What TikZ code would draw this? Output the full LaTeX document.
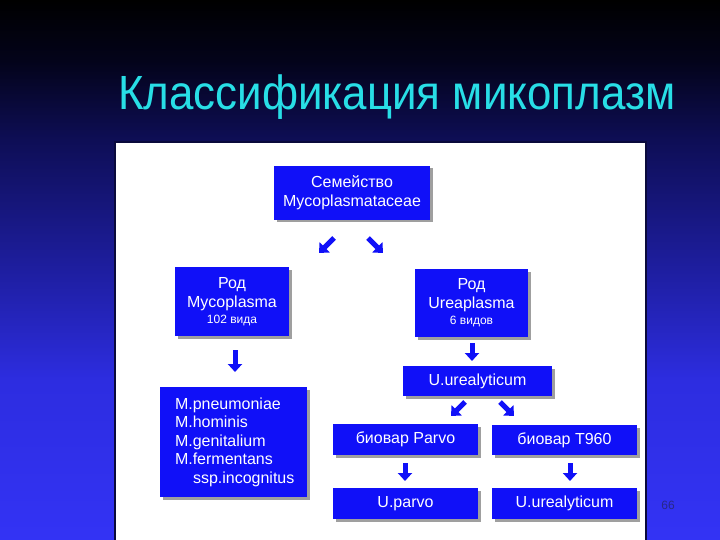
\documentclass[tikz,border=0pt]{standalone}
\usepackage{fontspec}
\setmainfont{Liberation Sans}
\usetikzlibrary{shadows,arrows.meta}
\definecolor{boxblue}{RGB}{16,16,248}
\definecolor{titlecyan}{RGB}{40,222,230}
\definecolor{pagenum}{RGB}{40,40,135}
\definecolor{frame}{RGB}{10,10,60}
\definecolor{bgA}{RGB}{51,51,245}
\definecolor{bgB}{RGB}{45,45,224}
\definecolor{bgC}{RGB}{30,30,160}
\definecolor{bgD}{RGB}{14,14,86}
\definecolor{bgE}{RGB}{3,3,26}
\pgfdeclareverticalshading{slidebg}{100bp}{color(0bp)=(bgA); color(25bp)=(bgA); color(39.8bp)=(bgB); color(50bp)=(bgC); color(62bp)=(bgD); color(69.4bp)=(bgE); color(75bp)=(black); color(100bp)=(black)}
\begin{document}
\begin{tikzpicture}[x=1pt,y=-1pt,
  box/.style={fill=boxblue, text=white, inner sep=0pt, align=center,
    font=\fontsize{16}{19}\selectfont,
    drop shadow={shadow xshift=2.5pt, shadow yshift=-2.5pt, fill=gray!75, opacity=1}},
  arr/.style={draw=boxblue, line width=5pt, -{Triangle[length=8pt,width=14pt]}}]
\useasboundingbox (0,0) rectangle (720,540);
\shade[shading=slidebg] (0,0) rectangle (720,540);
\draw[frame, line width=2pt] (115,142) rectangle (646,545);
\fill[white] (116,143) rectangle (645,540);
\node[anchor=base west, inner sep=0pt, text=titlecyan, font=\fontsize{48}{50}\selectfont] (title) at (118,110) {\resizebox{557pt}{\height}{Классификация микоплазм}};
\node[text=pagenum, font=\fontsize{12}{14}\selectfont, inner sep=0pt] (page) at (668,505) {66};

\node[box, minimum width=156pt, minimum height=54pt] (fam) at (352,193) {Семейство\\Mycoplasmataceae};
\node[box, minimum width=114pt, minimum height=69pt] (myc) at (232,301.5) {Род\\Mycoplasma\\[-3pt]{\fontsize{12}{14}\selectfont 102 вида}};
\node[box, minimum width=113pt, minimum height=68pt] (ure) at (471.5,303) {Род\\Ureaplasma\\[-3pt]{\fontsize{12}{14}\selectfont 6 видов}};
\node[box, minimum width=149pt, minimum height=30pt] (uu) at (477.5,381) {U.urealyticum};
\node[box, minimum width=147pt, minimum height=110pt, align=left, text width=117pt, font=\fontsize{16}{18.5}\selectfont] (list) at (233.5,442) {M.pneumoniae\\M.hominis\\M.genitalium\\M.fermentans\\\hspace*{18pt}ssp.incognitus};
\node[box, minimum width=145pt, minimum height=31pt] (bp) at (405.5,439.5) {биовар Parvo};
\node[box, minimum width=145pt, minimum height=30pt] (bt) at (564.5,440) {биовар T960};
\node[box, minimum width=145pt, minimum height=31pt] (up) at (405.5,503.5) {U.parvo};
\node[box, minimum width=145pt, minimum height=31pt] (uu2) at (564.5,503.5) {U.urealyticum};

\draw[arr] (334,238) -- (319,253);
\draw[arr] (368,238) -- (383,253);
\draw[arr] (235,350) -- (235,372);
\draw[arr] (472,343) -- (472,361);
\draw[arr] (465,402) -- (451,416);
\draw[arr] (500,402) -- (514,416);
\draw[arr] (405,463) -- (405,481);
\draw[arr] (570,463) -- (570,481);
\end{tikzpicture}
\end{document}
